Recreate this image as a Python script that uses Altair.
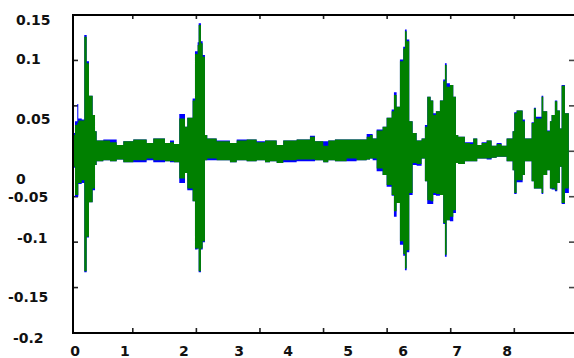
import altair as alt
import pandas as pd

# ---- waveform envelope (time in s, amplitude) ----
t = [0.055, 0.091, 0.127, 0.143, 0.197, 0.237, 0.275, 0.311, 0.369, 0.406,
     0.432, 0.536, 0.642, 0.747, 0.851, 1.008, 1.218, 1.322, 1.506, 1.585,
     1.648, 1.731, 1.821, 1.857, 1.941, 1.978, 2.020, 2.036, 2.072, 2.099,
     2.135, 2.171, 2.319, 2.528, 2.634, 2.791, 2.948, 3.079, 3.157, 3.263,
     3.366, 3.577, 3.786, 3.865, 3.995, 4.074, 4.179, 4.363, 4.520, 4.678,
     4.730, 4.772, 4.835, 4.929, 4.992, 5.071, 5.107, 5.149, 5.201, 5.253,
     5.280, 5.307, 5.348, 5.401, 5.464, 5.542, 5.594, 5.631, 5.684, 5.725,
     5.767, 5.830, 5.882, 5.909, 5.936, 5.987, 6.040, 6.082, 6.118, 6.223,
     6.302, 6.354, 6.417, 6.486, 6.565, 6.643, 6.722, 6.800, 6.879, 6.973,
     6.999, 7.036, 7.131, 7.167, 7.272, 7.308, 7.340, 7.429, 7.455, 7.517,
     7.560, 7.586, 7.638, 7.675, 7.717, 7.744, 7.796, 7.858]

green_hi = [0.018, 0.029, 0.031, 0.034, 0.034, 0.126, 0.097, 0.061, 0.040, 0.022,
            0.012, 0.012, 0.010, 0.007, 0.011, 0.013, 0.009, 0.014, 0.009, 0.010,
            0.008, 0.036, 0.027, 0.037, 0.056, 0.107, 0.117, 0.139, 0.119, 0.104,
            0.018, 0.014, 0.011, 0.009, 0.012, 0.013, 0.010, 0.012, 0.012, 0.007,
            0.012, 0.013, 0.016, 0.011, 0.006, 0.012, 0.013, 0.013, 0.013, 0.016,
            0.018, 0.014, 0.023, 0.027, 0.037, 0.044, 0.062, 0.049, 0.099, 0.113,
            0.132, 0.121, 0.033, 0.020, 0.012, 0.014, 0.027, 0.060, 0.056, 0.040,
            0.044, 0.056, 0.077, 0.095, 0.071, 0.073, 0.060, 0.018, 0.016, 0.009,
            0.008, 0.014, 0.007, 0.009, 0.012, 0.006, 0.008, 0.006, 0.014, 0.022,
            0.042, 0.045, 0.033, 0.014, 0.031, 0.047, 0.036, 0.060, 0.044, 0.022,
            0.033, 0.040, 0.055, 0.045, 0.025, 0.072, 0.042, 0.042]

green_lo = [-0.017, -0.048, -0.048, -0.035, -0.032, -0.132, -0.094, -0.056, -0.041, -0.015,
            -0.011, -0.010, -0.011, -0.009, -0.012, -0.010, -0.008, -0.010, -0.011, -0.011,
            -0.012, -0.030, -0.024, -0.041, -0.055, -0.107, -0.107, -0.132, -0.107, -0.099,
            -0.010, -0.008, -0.010, -0.012, -0.010, -0.011, -0.010, -0.012, -0.011, -0.013,
            -0.010, -0.009, -0.009, -0.010, -0.012, -0.010, -0.011, -0.008, -0.010, -0.009,
            -0.008, -0.008, -0.019, -0.026, -0.037, -0.048, -0.066, -0.057, -0.099, -0.113,
            -0.129, -0.109, -0.046, -0.013, -0.014, -0.008, -0.033, -0.054, -0.055, -0.046,
            -0.047, -0.048, -0.079, -0.114, -0.076, -0.072, -0.065, -0.013, -0.014, -0.011,
            -0.011, -0.011, -0.008, -0.008, -0.008, -0.007, -0.006, -0.006, -0.011, -0.021,
            -0.046, -0.032, -0.026, -0.011, -0.033, -0.041, -0.041, -0.046, -0.026, -0.021,
            -0.041, -0.041, -0.043, -0.035, -0.017, -0.057, -0.041, -0.041]

blue_hi = [0.020, 0.033, 0.052, 0.036, 0.035, 0.128, 0.099, 0.061, 0.040, 0.022,
           0.012, 0.013, 0.013, 0.007, 0.011, 0.013, 0.009, 0.014, 0.009, 0.012,
           0.008, 0.041, 0.027, 0.037, 0.058, 0.110, 0.120, 0.141, 0.121, 0.106,
           0.018, 0.014, 0.012, 0.009, 0.013, 0.013, 0.011, 0.012, 0.012, 0.007,
           0.012, 0.013, 0.017, 0.011, 0.011, 0.012, 0.013, 0.013, 0.013, 0.019,
           0.019, 0.014, 0.024, 0.027, 0.037, 0.046, 0.065, 0.049, 0.101, 0.115,
           0.134, 0.123, 0.033, 0.020, 0.012, 0.014, 0.029, 0.060, 0.056, 0.042,
           0.044, 0.056, 0.079, 0.097, 0.075, 0.073, 0.060, 0.018, 0.016, 0.010,
           0.010, 0.014, 0.007, 0.010, 0.012, 0.006, 0.009, 0.006, 0.014, 0.022,
           0.043, 0.045, 0.035, 0.014, 0.032, 0.048, 0.038, 0.061, 0.044, 0.023,
           0.033, 0.040, 0.056, 0.045, 0.025, 0.073, 0.042, 0.042]

blue_lo = [-0.018, -0.050, -0.050, -0.036, -0.035, -0.133, -0.095, -0.056, -0.043, -0.015,
           -0.011, -0.010, -0.011, -0.009, -0.012, -0.012, -0.010, -0.012, -0.011, -0.012,
           -0.012, -0.035, -0.024, -0.043, -0.055, -0.108, -0.107, -0.133, -0.108, -0.100,
           -0.010, -0.010, -0.010, -0.012, -0.010, -0.011, -0.010, -0.012, -0.011, -0.013,
           -0.012, -0.011, -0.011, -0.010, -0.012, -0.010, -0.011, -0.011, -0.010, -0.009,
           -0.008, -0.010, -0.022, -0.026, -0.039, -0.049, -0.072, -0.057, -0.103, -0.115,
           -0.131, -0.111, -0.048, -0.015, -0.016, -0.008, -0.033, -0.058, -0.058, -0.048,
           -0.049, -0.048, -0.080, -0.116, -0.076, -0.077, -0.068, -0.013, -0.014, -0.011,
           -0.011, -0.011, -0.008, -0.008, -0.009, -0.007, -0.006, -0.006, -0.011, -0.021,
           -0.047, -0.034, -0.026, -0.011, -0.033, -0.041, -0.041, -0.047, -0.026, -0.021,
           -0.041, -0.042, -0.044, -0.035, -0.017, -0.058, -0.046, -0.046]

# ---- axes ----
x_label_values = [0, 1, 2, 3, 4, 5, 6, 7, 8]
x_label_text = ["0", "1", "2", "3", "4", "5", "6", "7", "8"]
x_tick_values = [1, 2, 3, 4, 5, 6, 7]
y_label_values = [0.15, 0.1, 0.05, 0, -0.05, -0.1, -0.15, -0.2]
y_label_text = ["0.15", "0.1", "0.05", "0", "-0.05", "-0.1", "-0.15", "-0.2"]
y_tick_values = [0.1, 0.05, 0, -0.05, -0.1, -0.15]

W, H = 501, 318

# label placement quirks of the original picture (pixel nudges, layout only)
x_label_nudge = [5.8, -7.8, -12.4, -20.9, -35.5, -39.1, -47.7, -57.3, -70.8]
y_label_nudge = [5.5, 0, 14.6, 29.2, 1, -3.6, 10.9, 5.5]
y_label_left = [-57, -57, -57, -57, -65, -56, -65, -60]

wave = pd.DataFrame({"t": t, "g_hi": green_hi, "g_lo": green_lo,
                     "b_hi": blue_hi, "b_lo": blue_lo})
xl = pd.DataFrame({"v": x_label_values, "txt": x_label_text})
yl = pd.DataFrame({"v": y_label_values, "txt": y_label_text})
xt = pd.DataFrame({"v": x_tick_values})
yt = pd.DataFrame({"v": y_tick_values})

xscale = alt.Scale(domain=[0, 8], range=[-3.8, W + 3.9], nice=False, zero=False)
yscale = alt.Scale(domain=[-0.2, 0.15], nice=False, zero=False)

font = "DejaVu Sans"

blue = alt.Chart(wave).mark_area(interpolate="step-after", color="#0000ff").encode(
    x=alt.X("t:Q", scale=xscale, axis=None),
    y=alt.Y("b_hi:Q", scale=yscale, axis=None),
    y2="b_lo:Q",
)

green = alt.Chart(wave).mark_area(interpolate="step-after", color="#008000").encode(
    x=alt.X("t:Q", scale=xscale, axis=None),
    y=alt.Y("g_hi:Q", scale=yscale, axis=None),
    y2="g_lo:Q",
)

tick_style = dict(color="#222222", strokeWidth=1.6)

bottom_ticks = alt.Chart(xt).mark_rule(**tick_style).encode(
    x=alt.X("v:Q", scale=xscale, axis=None), y=alt.value(H - 5), y2=alt.value(H))
top_ticks = alt.Chart(xt).mark_rule(**tick_style).encode(
    x=alt.X("v:Q", scale=xscale, axis=None), y=alt.value(0), y2=alt.value(4))
left_ticks = alt.Chart(yt).mark_rule(**tick_style).encode(
    y=alt.Y("v:Q", scale=yscale, axis=None), x=alt.value(0), x2=alt.value(5))
right_ticks = alt.Chart(yt).mark_rule(color="#444444", strokeWidth=1.6).encode(
    y=alt.Y("v:Q", scale=yscale, axis=None), x=alt.value(W - 5), x2=alt.value(W))

border = dict(color="black", strokeWidth=2)
top_border = alt.Chart(xt).mark_rule(**border).encode(
    x=alt.value(0), x2=alt.value(W + 2), y=alt.value(0))
bottom_border = alt.Chart(xt).mark_rule(**border).encode(
    x=alt.value(0), x2=alt.value(W + 2), y=alt.value(H))
left_border = alt.Chart(xt).mark_rule(**border).encode(
    x=alt.value(0), y=alt.value(-1), y2=alt.value(H + 1))

label_style = dict(font=font, fontSize=14, fontWeight="bold", color="#111111")

label_layers = []
for txt, nudge in zip(x_label_text, x_label_nudge):
    label_layers.append(
        alt.Chart(xl).transform_filter(alt.datum.txt == txt)
        .mark_text(align="center", baseline="alphabetic", dx=nudge, **label_style)
        .encode(x=alt.X("v:Q", scale=xscale, axis=None), y=alt.value(H + 23), text="txt:N")
    )
for txt, nudge, left in zip(y_label_text, y_label_nudge, y_label_left):
    label_layers.append(
        alt.Chart(yl).transform_filter(alt.datum.txt == txt)
        .mark_text(align="left", baseline="middle", dy=nudge, **label_style)
        .encode(y=alt.Y("v:Q", scale=yscale, axis=None), x=alt.value(left), text="txt:N")
    )

chart = alt.layer(
    bottom_ticks, top_ticks, left_ticks, right_ticks,
    blue, green, top_border, bottom_border, left_border,
    *label_layers,
).properties(
    width=W, height=H,
    padding={"left": 73, "top": 15, "right": 0, "bottom": 25},
    autosize=alt.AutoSizeParams(type="none"),
    background="white",
).configure_view(stroke=None)

chart.save("out.html", embed_options={"renderer": "svg", "actions": False})
